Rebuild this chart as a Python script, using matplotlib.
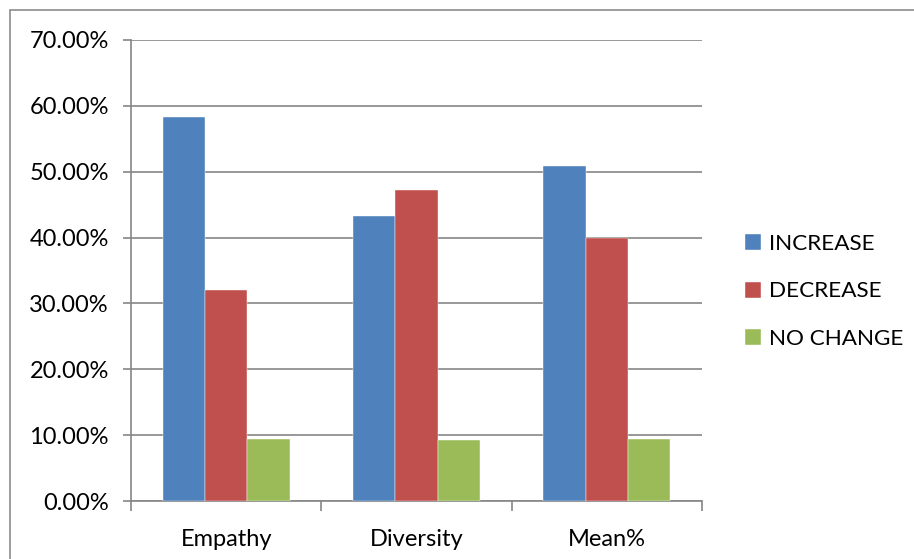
import matplotlib
matplotlib.use("Agg")
import matplotlib.pyplot as plt
from matplotlib.patches import Rectangle
from matplotlib.ticker import FuncFormatter, FixedLocator
import numpy as np

plt.rcParams['font.family'] = ['Lato', 'DejaVu Sans']

categories = ["Empathy", "Diversity", "Mean%"]
series_names = ["INCREASE", "DECREASE", "NO CHANGE"]
increase = [58.3, 43.2, 50.8]
decrease = [32.1, 47.2, 40.0]
no_change = [9.4, 9.3, 9.4]
y_ticks = [0, 10, 20, 30, 40, 50, 60, 70]

colors = ["#4F81BD", "#C0504D", "#9BBB59"]
grid_color = "#868686"
fs = 17

fig = plt.figure(figsize=(9.14, 5.59), dpi=100)
ax = fig.add_axes([131 / 914, 1 - 501 / 559, (702 - 131) / 914, (501 - 40) / 559])

# Chart-area border (top and left edges visible)
fig.patches.append(Rectangle((10 / 914, -0.05), 1.2, 1 - 10 / 559 + 0.05,
                             transform=fig.transFigure, fill=False,
                             edgecolor="#8C8C8C", linewidth=1.2, zorder=0))

x = np.arange(len(categories))
bw = 1 / 4.5
for i, (vals, name) in enumerate(zip([increase, decrease, no_change], series_names)):
    ax.bar(x + (i - 1) * bw, vals, width=bw, color=colors[i], label=name,
           zorder=3, edgecolor="white", linewidth=0.3)

ax.set_xlim(-0.5, 2.5)
ax.set_ylim(0, 70)
ax.yaxis.set_major_locator(FixedLocator(y_ticks))
ax.yaxis.set_major_formatter(FuncFormatter(lambda v, p: f"{v:.2f}%"))
ax.set_xticks(x)
ax.set_xticklabels(categories)
ax.xaxis.set_minor_locator(FixedLocator([-0.5, 0.5, 1.5, 2.5]))

ax.grid(axis="y", color=grid_color, linewidth=1.2, zorder=0)
for s in ["top", "right"]:
    ax.spines[s].set_visible(False)
for s in ["left", "bottom"]:
    ax.spines[s].set_color(grid_color)
    ax.spines[s].set_linewidth(1.2)

ax.tick_params(axis="y", which="major", length=6, color=grid_color, width=1.2,
               labelsize=fs, pad=10, direction="out")
ax.tick_params(axis="x", which="major", length=0, labelsize=fs, pad=20)
ax.tick_params(axis="x", which="minor", length=7, color=grid_color, width=1.2,
               direction="out")

leg = fig.legend(loc="upper left", bbox_to_anchor=(736 / 914, 1 - 225 / 559),
                 frameon=False, fontsize=16.2, handlelength=0.72, handleheight=0.72,
                 handletextpad=0.35, labelspacing=1.22, borderaxespad=0)

fig.savefig("out.png", dpi=100)
